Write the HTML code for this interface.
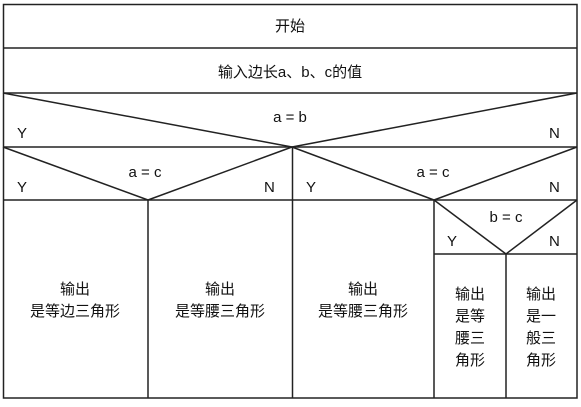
<!DOCTYPE html>
<html><head><meta charset="utf-8"><style>
html,body{margin:0;padding:0;background:#fff;}
svg text{font-family:"Liberation Sans","Noto Sans CJK SC",sans-serif;font-size:15px;fill:#111;}
</style></head><body>
<svg width="581" height="402" viewBox="0 0 581 402" xmlns="http://www.w3.org/2000/svg">
<g stroke="#222" stroke-width="1.5" fill="none">
<rect x="3.5" y="4.5" width="573.5" height="393.5"/>
<line x1="3" y1="48" x2="577" y2="48"/>
<line x1="3" y1="93" x2="577" y2="93"/>
<line x1="3" y1="147" x2="577" y2="147"/>
<line x1="3" y1="93" x2="292" y2="147"/>
<line x1="577" y1="93" x2="292" y2="147"/>
<line x1="3" y1="200" x2="577" y2="200"/>
<line x1="3" y1="147" x2="148" y2="200"/>
<line x1="292" y1="147" x2="148" y2="200"/>
<line x1="292" y1="147" x2="434" y2="200"/>
<line x1="577" y1="147" x2="434" y2="200"/>
<line x1="148" y1="200" x2="148" y2="398"/>
<line x1="292.5" y1="147" x2="292.5" y2="398"/>
<line x1="434" y1="200" x2="434" y2="398"/>
<line x1="434" y1="254" x2="577" y2="254"/>
<line x1="434" y1="200" x2="506" y2="254"/>
<line x1="577" y1="200" x2="506" y2="254"/>
<line x1="506" y1="254" x2="506" y2="398"/>
</g>
<g text-anchor="middle">
<text x="290" y="31">开始</text>
<text x="290" y="77">输入边长a、b、c的值</text>
<text x="290" y="122">a = b</text>
<text x="145" y="177">a = c</text>
<text x="433" y="177">a = c</text>
<text x="506" y="222">b = c</text>
<text x="75" y="294">输出</text><text x="75" y="316">是等边三角形</text>
<text x="220" y="294">输出</text><text x="220" y="316">是等腰三角形</text>
<text x="363" y="294">输出</text><text x="363" y="316">是等腰三角形</text>
<text x="470" y="299">输出</text><text x="470" y="321">是等</text><text x="470" y="343">腰三</text><text x="470" y="365">角形</text>
<text x="541" y="299">输出</text><text x="541" y="321">是一</text><text x="541" y="343">般三</text><text x="541" y="365">角形</text>
</g>
<g style="font-size:16px">
<text x="17" y="138">Y</text><text x="549" y="138">N</text>
<text x="17" y="192">Y</text><text x="264" y="192">N</text>
<text x="306" y="192">Y</text><text x="549" y="192">N</text>
<text x="447" y="246">Y</text><text x="549" y="246">N</text>
</g>
</svg>
</body></html>
